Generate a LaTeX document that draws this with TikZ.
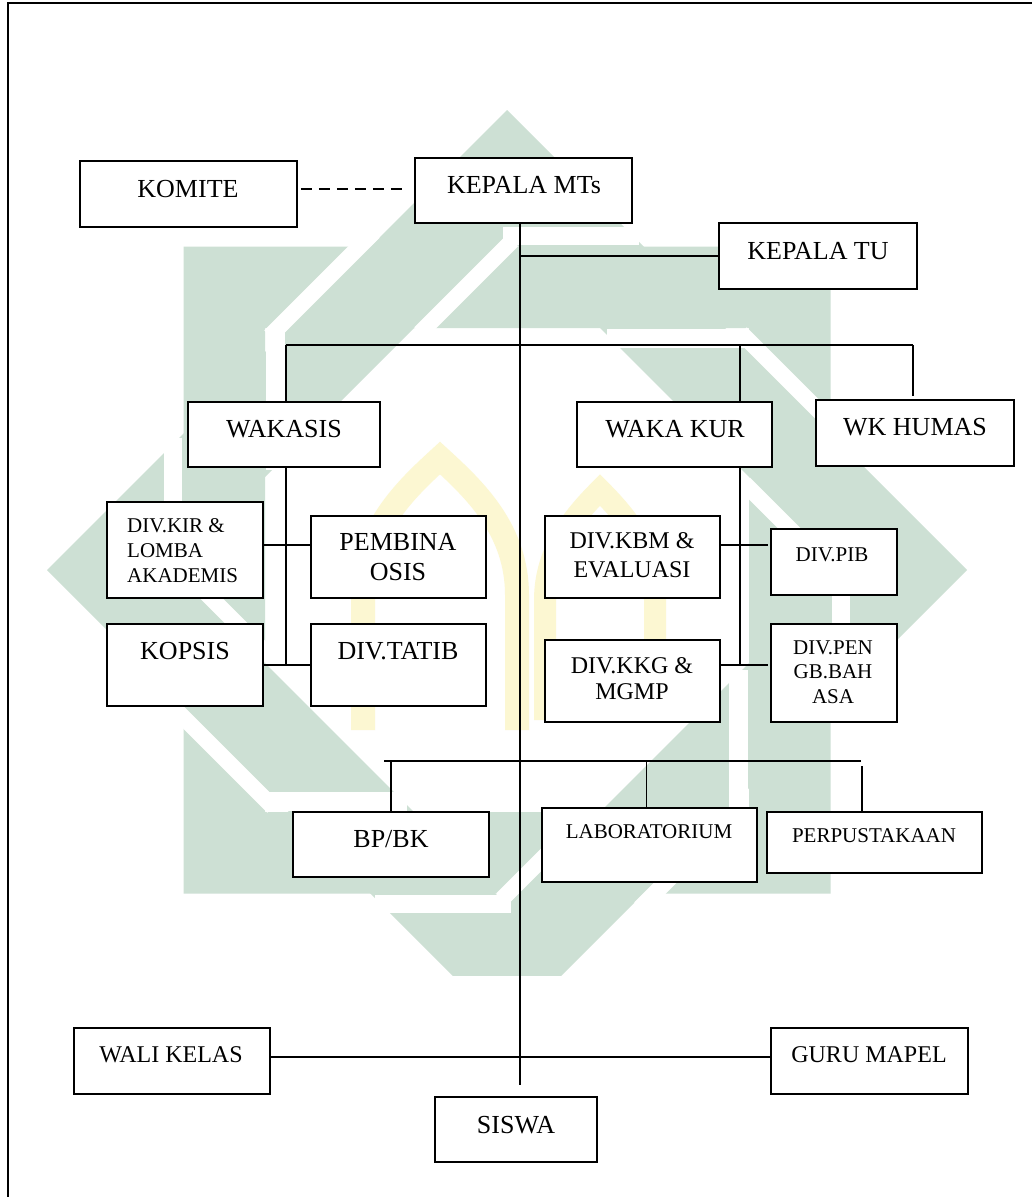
\documentclass[tikz,border=0pt]{standalone}
\usepackage{fontspec}
\setmainfont{Liberation Serif}
\definecolor{wmgreen}{RGB}{205,224,212}
\definecolor{wmyellow}{RGB}{252,247,210}
\newcommand\szbig{\fontsize{26}{30}\selectfont}
\newcommand\szmid{\fontsize{24}{28}\selectfont}
\newcommand\szsml{\fontsize{21}{25}\selectfont}
\newcommand\mybox[5]{\node[box, minimum width={(#3-#2)*1pt}, minimum height={(#5-#4)*1pt}] (#1) at ({(#2+#3)/2},{(#4+#5)/2}) {};}
\begin{document}
\begin{tikzpicture}[x=1pt,y=-1pt,
  box/.style={draw=black, line width=1.6pt, fill=white, inner sep=0pt, rectangle},
  txt/.style={anchor=base, inner sep=0pt, text=black},
  conn/.style={line width=1.3pt},
  dsh/.style={line width=2.4pt, dash pattern=on 11.5pt off 6.5pt},
  wm/.style={fill=wmgreen},
  gap/.style={draw=white},
  arch/.style={draw=wmyellow}
]
\useasboundingbox (0,0) rectangle (1032,1197);
\fill[white] (0,0) rectangle (1032,1197);

% ---------- watermark ----------
\begin{scope}
  \clip (0,0) rectangle (1032,975);
  \fill[wm, even odd rule] (507,110) -- (967,570) -- (507,1030) -- (47,570) -- cycle
        (507,235) -- (842,570) -- (507,905) -- (172,570) -- cycle;
\end{scope}
\fill[wm, even odd rule] (183.5,246.5) rectangle (830.5,893.5) (265,328) rectangle (749,812);
\foreach \a in {0,90,180,270}{
  \begin{scope}[rotate around={\a:(507,570)}]
    \draw[gap, line width=16pt] (374,232) -- (270,336);
    \draw[gap, line width=19pt] (275.5,328) -- (275.5,470);
    \draw[gap, line width=18pt] (173,438) -- (173,574);
    \draw[gap, line width=16pt] (512,241) -- (420,333);
  \end{scope}
}
\draw[arch, line width=24pt] (363,730) -- (363,595) .. controls (363,530) and (405,490) .. (440,458)
   .. controls (475,490) and (517,530) .. (517,595) -- (517,730);
\draw[arch, line width=22pt] (545,720) -- (545,600) .. controls (545,550) and (575,515) .. (600,490)
   .. controls (625,515) and (655,550) .. (655,600) -- (655,720);

% ---------- frame ----------
\coordinate (fb) at (8,1197);
\coordinate (fc) at (8,3);
\coordinate (fr) at (1032,3);
\draw[line width=1.5pt] (fb) -- (fc) -- (fr);

% ---------- boxes ----------
\mybox{komite}{80}{297}{161}{227}
\mybox{kepala}{415}{632}{158}{223}
\mybox{kepalatu}{719}{917}{223}{289}
\mybox{wakasis}{188}{380}{402}{467}
\mybox{wakakur}{577}{772}{402}{467}
\mybox{wkhumas}{816}{1014}{400}{466}
\mybox{divkir}{107}{263}{502}{598}
\mybox{pembina}{311}{486}{516}{598}
\mybox{kopsis}{107}{263}{624}{706}
\mybox{tatib}{311}{486}{624}{706}
\mybox{divkbm}{545}{720}{516}{598}
\mybox{divpib}{771}{897}{529}{595}
\mybox{divkkg}{545}{720}{640}{722}
\mybox{divpeng}{771}{897}{624}{722}
\mybox{bpbk}{293}{489}{812}{877}
\mybox{lab}{542}{757}{808}{882}
\mybox{perp}{767}{982}{812}{873}
\mybox{wali}{74}{270}{1028}{1094}
\mybox{guru}{771}{968}{1028}{1094}
\mybox{siswa}{435}{597}{1097}{1162}

% ---------- connectors ----------
\coordinate (dy) at (0,189);
\draw[dsh] ([xshift=3pt]komite.east |- dy) -- ([xshift=-10pt]kepala.west |- dy);
\coordinate (mx) at (520,0);
\coordinate (mbot) at (520,1085);
\draw[conn] (kepala.south -| mx) -- (mbot);
\draw[conn] (kepalatu.west -| mx) -- (kepalatu.west);
\coordinate (busL) at (286,345);
\coordinate (busR) at (913,345);
\coordinate (kx) at (740,345);
\coordinate (hend) at (913,396);
\draw[conn] (busL) -- (busR);
\draw[conn] (busL) -- (wakasis.north -| busL);
\draw[conn] (kx) -- (wakakur.north -| kx);
\draw[conn] (busR) -- (hend);
\coordinate (lstem) at (286,665);
\coordinate (rstem) at (740,665);
\coordinate (l1) at (0,545);
\draw[conn] (wakasis.south -| lstem) -- (lstem);
\draw[conn] (divkir.east |- l1) -- (pembina.west |- l1);
\draw[conn] (kopsis.east |- lstem) -- (tatib.west |- lstem);
\draw[conn] (wakakur.south -| rstem) -- (rstem);
\draw[conn] (divkbm.east |- l1) -- ([xshift=-2pt]divpib.west |- l1);
\draw[conn] (divkkg.east |- rstem) -- ([xshift=-2pt]divpeng.west |- rstem);
\coordinate (bL) at (384,761);
\coordinate (bR) at (861,761);
\coordinate (pt) at (862,766);
\draw[conn] (bL) -- (bR);
\draw[conn] (bpbk.north |- bL) -- (bpbk.north);
\draw[conn] ([xshift=-3pt]lab.north |- bL) -- ([xshift=-3pt]lab.north);
\draw[conn] (pt) -- (perp.north -| pt);
\coordinate (wy) at (0,1057);
\draw[conn] (wali.east |- wy) -- (guru.west |- wy);

% ---------- texts ----------
\node[txt,font=\szbig] (tkomite) at (188,197) {KOMITE};
\node[txt,font=\szbig] (tkepala) at (524,193) {KEPALA MTs};
\node[txt,font=\szbig] (tkepalatu) at (818,259) {KEPALA TU};
\node[txt,font=\szbig] (twakasis) at (284,437) {WAKASIS};
\node[txt,font=\szbig] (twakakur) at (675,437) {WAKA KUR};
\node[txt,font=\szbig] (twkhumas) at (915,435) {WK HUMAS};
\node[txt,anchor=base west,font=\szsml] (tkir1) at (127,532) {DIV.KIR \&};
\node[txt,anchor=base west,font=\szsml] (tkir2) at (127,557) {LOMBA};
\node[txt,anchor=base west,font=\szsml] (tkir3) at (127,582) {AKADEMIS};
\node[txt,font=\szbig] (tpem1) at (398,550) {PEMBINA};
\node[txt,font=\szbig] (tpem2) at (398,580) {OSIS};
\node[txt,font=\szbig] (tkopsis) at (185,659) {KOPSIS};
\node[txt,font=\szbig] (ttatib) at (398,659) {DIV.TATIB};
\node[txt,font=\szmid] (tkbm1) at (632,548) {DIV.KBM \&};
\node[txt,font=\szmid] (tkbm2) at (632,577) {EVALUASI};
\node[txt,font=\szsml] (tpib) at (832,561) {DIV.PIB};
\node[txt,font=\szmid] (tkkg1) at (632,673) {DIV.KKG \&};
\node[txt,font=\szmid] (tkkg2) at (632,699) {MGMP};
\node[txt,font=\szsml] (tpen1) at (833,654) {DIV.PEN};
\node[txt,font=\szsml] (tpen2) at (833,678) {GB.BAH};
\node[txt,font=\szsml] (tpen3) at (833,703) {ASA};
\node[txt,font=\szbig] (tbpbk) at (391,847) {BP/BK};
\node[txt,font=\szsml] (tlab) at (649,838) {LABORATORIUM};
\node[txt,font=\szsml] (tperp) at (874,842) {PERPUSTAKAAN};
\node[txt,font=\szmid] (twali) at (171,1062) {WALI KELAS};
\node[txt,font=\szmid] (tguru) at (869,1062) {GURU MAPEL};
\node[txt,font=\szbig] (tsiswa) at (516,1133) {SISWA};
\end{tikzpicture}
\end{document}
